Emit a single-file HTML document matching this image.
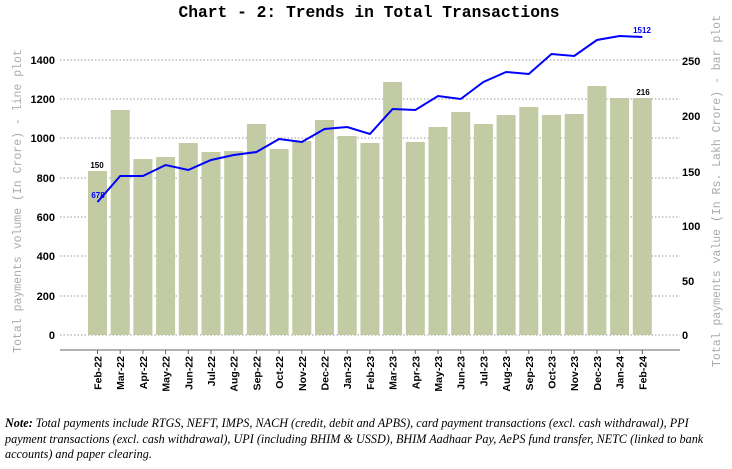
<!DOCTYPE html>
<html><head><meta charset="utf-8"><style>
html,body{margin:0;padding:0;background:#fff;}
.note{position:absolute;left:5px;top:416px;width:725px;font-family:"Liberation Serif",serif;font-style:italic;font-size:12.2px;line-height:15.5px;color:#000;}
</style></head><body>
<div style="position:relative;width:732px;height:469px;overflow:hidden">
<svg width="732" height="469" xmlns="http://www.w3.org/2000/svg" style="position:absolute;left:0;top:0">
<text x="369" y="17" text-anchor="middle" font-family="Liberation Mono,monospace" font-weight="bold" font-size="16.3">Chart - 2: Trends in Total Transactions</text>
<g stroke="#999" stroke-dasharray="1.5,2" stroke-width="1">
<line x1="60" x2="680" y1="60" y2="60"/><line x1="60" x2="680" y1="99" y2="99"/><line x1="60" x2="680" y1="138" y2="138"/><line x1="60" x2="680" y1="178" y2="178"/><line x1="60" x2="680" y1="217" y2="217"/><line x1="60" x2="680" y1="256" y2="256"/><line x1="60" x2="680" y1="296" y2="296"/><line x1="60" x2="680" y1="335" y2="335"/>
</g>
<g font-family="Liberation Sans,sans-serif" font-weight="bold" font-size="11" text-anchor="end">
<text x="55" y="64">1400</text><text x="55" y="103">1200</text><text x="55" y="142">1000</text><text x="55" y="182">800</text><text x="55" y="221">600</text><text x="55" y="260">400</text><text x="55" y="300">200</text><text x="55" y="339">0</text>
</g>
<g font-family="Liberation Sans,sans-serif" font-weight="bold" font-size="11">
<text x="682" y="65">250</text><text x="682" y="120">200</text><text x="682" y="176">150</text><text x="682" y="230">100</text><text x="682" y="285">50</text><text x="682" y="339">0</text>
</g>
<text transform="translate(21,201) rotate(-90)" text-anchor="middle" font-family="Liberation Mono,monospace" font-size="11.5" fill="#aaa">Total payments volume (In Crore) - line plot</text>
<text transform="translate(720,191) rotate(-90)" text-anchor="middle" font-family="Liberation Mono,monospace" font-size="11.5" fill="#aaa">Total payments value (In Rs. Lakh Crore) - bar plot</text>
<g fill="#c2cba3" id="bars"></g>
<polyline id="ln" fill="none" stroke="#0000ff" stroke-width="2"/>
<line x1="60" x2="680" y1="350" y2="350" stroke="#666" stroke-width="1"/>
<g id="xl" font-family="Liberation Sans,sans-serif" font-weight="bold" font-size="10.5"></g>
<text x="97" y="168" text-anchor="middle" font-family="Liberation Sans,sans-serif" font-weight="bold" font-size="8">150</text>
<text x="98" y="198" text-anchor="middle" font-family="Liberation Sans,sans-serif" font-weight="bold" font-size="8" fill="#0000ff">678</text>
<text x="643" y="95" text-anchor="middle" font-family="Liberation Sans,sans-serif" font-weight="bold" font-size="8">216</text>
<text x="642" y="33" text-anchor="middle" font-family="Liberation Sans,sans-serif" font-weight="bold" font-size="8" fill="#0000ff">1512</text>
</svg>
<div class="note"><b>Note:</b> Total payments include RTGS, NEFT, IMPS, NACH (credit, debit and APBS), card payment transactions (excl. cash withdrawal), PPI payment transactions (excl. cash withdrawal), UPI (including BHIM &amp; USSD), BHIM Aadhaar Pay, AePS fund transfer, NETC (linked to bank accounts) and paper clearing.</div>
</div>
<script>
var labels=["Feb-22","Mar-22","Apr-22","May-22","Jun-22","Jul-22","Aug-22","Sep-22","Oct-22","Nov-22","Dec-22","Jan-23","Feb-23","Mar-23","Apr-23","May-23","Jun-23","Jul-23","Aug-23","Sep-23","Oct-23","Nov-23","Dec-23","Jan-24","Feb-24"];
var tops=[171,110,159,157,143,152,151,124,149,141,120,136,143,82,142,127,112,124,115,107,115,114,86,98,98];
var ly=[202,176,176,165,170,160,155,152,139,142,129,127,134,109,110,96,99,82,72,74,54,56,40,36,37];
var ns="http://www.w3.org/2000/svg",b=document.getElementById("bars"),xl=document.getElementById("xl"),pts=[];
for(var i=0;i<25;i++){var c=97.5+i*22.7;
var r=document.createElementNS(ns,"rect");r.setAttribute("x",c-9.5);r.setAttribute("y",tops[i]);r.setAttribute("width",19);r.setAttribute("height",335-tops[i]);b.appendChild(r);
pts.push(c+","+ly[i]);
var t=document.createElementNS(ns,"line");t.setAttribute("x1",c);t.setAttribute("x2",c);t.setAttribute("y1",350);t.setAttribute("y2",354);t.setAttribute("stroke","#666");xl.appendChild(t);
var tx=document.createElementNS(ns,"text");tx.setAttribute("transform","translate("+(c+4)+",356) rotate(-90)");tx.setAttribute("text-anchor","end");tx.textContent=labels[i];xl.appendChild(tx);}
document.getElementById("ln").setAttribute("points",pts.join(" "));
</script>
</body></html>
